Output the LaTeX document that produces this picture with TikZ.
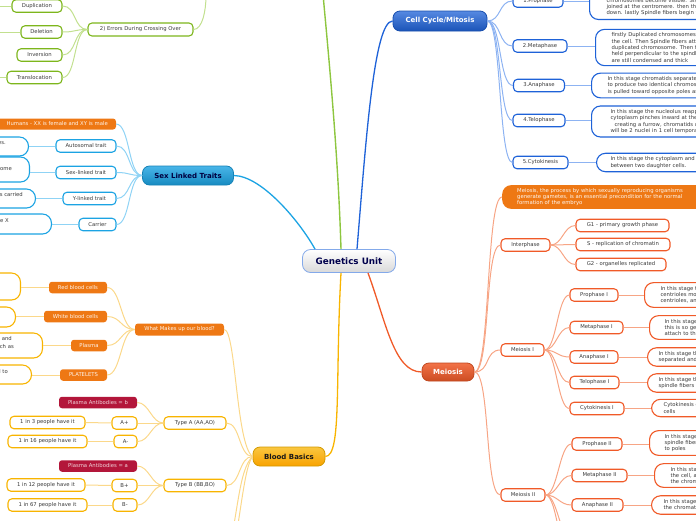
\documentclass[tikz,border=0pt]{standalone}
\usepackage{fontspec}
\setmainfont{DejaVu Sans}
\definecolor{grn}{HTML}{7DB61C}
\definecolor{grnl}{HTML}{C2E08F}
\definecolor{grnm}{HTML}{8DC63F}
\definecolor{blu}{HTML}{1E62D8}
\definecolor{blul}{HTML}{8DB3F2}
\definecolor{cyn}{HTML}{1BA3E3}
\definecolor{cynl}{HTML}{8FD3F5}
\definecolor{ylw}{HTML}{F8B400}
\definecolor{ylwl}{HTML}{FBD88A}
\definecolor{mred}{HTML}{F05A28}
\definecolor{mredl}{HTML}{F7A585}
\definecolor{org}{HTML}{EE7814}
\definecolor{crim}{HTML}{B3163A}
\definecolor{txt}{HTML}{3A3A3A}
\begin{document}
\begin{tikzpicture}[x=1pt,y=-1pt,
  font=\fontsize{5.3}{6.3}\selectfont,
  cbox/.style={draw, line width=1.1pt, fill=white, rounded corners=4pt, text=txt, inner xsep=2pt, inner ysep=0pt, minimum height=12.5pt},
  gbox/.style={cbox, draw=grn},
  bbox/.style={cbox, draw=blu},
  sbox/.style={cbox, draw=cyn},
  ybox/.style={cbox, draw=ylw},
  mbox/.style={cbox, draw=mred},
  fbox/.style={fill=org, rounded corners=3pt, text=white!92!org, inner xsep=2pt, inner ysep=0pt, minimum height=11.5pt},
  kbox/.style={fill=crim, rounded corners=3pt, text=white!82!crim, inner xsep=2pt, inner ysep=0pt, minimum height=11.5pt},
  mainbox/.style={draw, line width=0.8pt, rounded corners=7pt, font=\fontsize{7}{8}\selectfont\bfseries, minimum height=19pt, inner sep=2pt},
  rdet/.style={draw, line width=1.1pt, fill=white, rounded corners=9pt, anchor=west, align=left, text width=230pt, inner ysep=3.5pt, text=txt},
  ldet/.style={draw, line width=1.1pt, fill=white, rounded corners=9pt, anchor=east, minimum width=110pt},
  dtxt/.style={text=txt, inner sep=0pt, anchor=east},
  rconn/.style={to path={.. controls +(#1,0) and +(-#1,0) .. (\tikztotarget)}},
  rconn/.default=12,
  lconn/.style={to path={.. controls +(-#1,0) and +(#1,0) .. (\tikztotarget)}},
  lconn/.default=12,
  gl/.style={draw=grnl, line width=1pt},
  bl/.style={draw=blul, line width=1pt},
  sl/.style={draw=cynl, line width=1pt},
  yl/.style={draw=ylwl, line width=1pt},
  ml/.style={draw=mredl, line width=1pt}
]
\useasboundingbox (0,0) rectangle (696,520);
\clip (0,0) rectangle (696,520);

% ---------- centre ----------
\node[mainbox, top color=white, bottom color=gray!30!white, draw=blu!55!white, text=blue!30!black,
  font=\fontsize{8.8}{10}\selectfont\bfseries, minimum width=93pt, minimum height=23pt, rounded corners=8pt] (gu) at (349,261) {Genetics Unit};

% ---------- main branches ----------
\node[mainbox, top color=blu!75!white, bottom color=blu!85!black, draw=blu!80!black, text=white, minimum width=94pt, minimum height=20pt] (cc) at (440,21) {Cell Cycle/Mitosis};
\node[mainbox, top color=cyn!80!white, bottom color=cyn!85!black, draw=cyn!80!black, text=blue!25!black, minimum width=91pt] (slt) at (188,175.5) {Sex Linked Traits};
\node[mainbox, top color=ylw!75!white, bottom color=ylw!90!red, draw=ylw!85!black, text=black!90, minimum width=72pt] (bb) at (289,456.5) {Blood Basics};
\node[mainbox, top color=mred!85!white, bottom color=mred!85!black, draw=mred!80!black, text=white, minimum width=52pt, minimum height=18pt] (mei) at (448,372) {Meiosis};

\coordinate (gtop) at (323,-6);
\draw[draw=grnm, line width=1.4pt] ([xshift=-8pt]gu.north) .. controls (338,150) and (328,50) .. (gtop);
\draw[draw=blu, line width=1.3pt] ([xshift=8pt]gu.north) .. controls (366,140) and (374,21) .. (cc.west);
\draw[draw=cyn, line width=1.3pt] ([xshift=-34pt]gu.north) .. controls (300,222) and (262,176) .. (slt.east);
\draw[draw=ylw, line width=1.3pt] ([xshift=-8pt]gu.south) .. controls (335,380) and (342,456) .. (bb.east);
\draw[draw=mred, line width=1.3pt] ([xshift=19pt]gu.south) .. controls (386,322) and (394,372) .. (mei.west);

% ---------- Cell cycle / mitosis ----------
\node[bbox, minimum width=50pt] (p1) at (538,1) {1.Prophase};
\node[bbox, minimum width=54pt] (m2) at (540,46) {2.Metaphase};
\node[bbox, minimum width=51pt] (a3) at (539,85.5) {3.Anaphase};
\node[bbox, minimum width=52pt] (t4) at (539,120.5) {4.Telophase};
\node[bbox, minimum width=55pt] (c5) at (540.5,162.5) {5.Cytokinesis};
\foreach \n in {p1,m2,a3,t4,c5} \draw[bl] (cc.east) to[rconn=14] (\n.west);

\node[rdet, draw=blu, inner xsep=17pt] (p1d) at (589,4) {In this stage the chromatin condenses and the\\chromosomes become visible. Sister chromatids are\\joined at the centromere. then the nuclear envelope breaks\\down. lastly Spindle fibers begin to form};
\node[rdet, draw=blu, inner xsep=16pt] (m2d) at (595,47.5) {firstly Duplicated chromosomes line up in the middle of\\the cell. Then Spindle fibers attach to each\\duplicated chromosome. Then the chromosomes are\\held perpendicular to the spindle fibers. Chromosomes\\are still condensed and thick};
\node[rdet, draw=blu, inner xsep=16pt] (a3d) at (591,85.5) {In this stage chromatids separate at the centromere\\to produce two identical chromosomes. Each chromosome\\is pulled toward opposite poles as the fibers shorten};
\node[rdet, draw=blu, inner xsep=19pt] (t4d) at (591,121.5) {In this stage the nucleolus reappears and the\\cytoplasm pinches inward at the center of the cell\\\hspace*{4pt}creating a furrow, chromatids unwind. There\\will be 2 nuclei in 1 cell temporarily};
\node[rdet, draw=blu, inner xsep=14pt] (c5d) at (596,162.5) {In this stage the cytoplasm and organelles are divided\\between two daughter cells.};
\draw[bl] (p1.east) -- (p1.east -| p1d.west);
\draw[bl] (m2.east) -- (m2.east -| m2d.west);
\draw[bl] (a3.east) -- (a3.east -| a3d.west);
\draw[bl] (t4.east) -- (t4.east -| t4d.west);
\draw[bl] (c5.east) -- (c5.east -| c5d.west);

% ---------- Meiosis ----------
\node[fill=org, rounded corners=9pt, anchor=west, align=left, text width=260pt, inner xsep=15pt, inner ysep=3pt, text=white!95!org] (desc) at (502,197) {Meiosis, the process by which sexually reproducing organisms\\generate gametes, is an essential precondition for the normal\\formation of the embryo};
\node[mbox, minimum width=49pt] (ip) at (525.5,245) {Interphase};
\node[mbox, minimum width=93pt] (g1) at (622.5,225.5) {G1 - primary growth phase};
\node[mbox, minimum width=94pt] (sp) at (623,244.5) {S - replication of chromatin};
\node[mbox, minimum width=90pt] (g2) at (621,264.5) {G2 - organelles replicated};

\node[mbox, minimum width=43pt] (mi) at (522.5,350) {Meiosis I};
\node[mbox, minimum width=48pt] (pr1) at (594,295) {Prophase I};
\node[mbox, minimum width=53pt] (me1) at (596.5,327.5) {Metaphase I};
\node[mbox, minimum width=48pt] (an1) at (594,357) {Anaphase I};
\node[mbox, minimum width=49pt] (te1) at (594.5,382.5) {Telophase I};
\node[mbox, minimum width=54pt] (cy1) at (597,408.5) {Cytokinesis I};

\node[mbox, minimum width=44pt] (mii) at (523,495) {Meiosis II};
\node[mbox, minimum width=50pt] (pr2) at (597,444) {Prophase II};
\node[mbox, minimum width=55pt] (me2) at (599.5,475.5) {Metaphase II};
\node[mbox, minimum width=51pt] (an2) at (597.5,505) {Anaphase II};

\node[rdet, draw=mred, inner xsep=16pt] (pr1d) at (644,295) {In this stage the nuclear envelope breaks down, the\\centrioles move to opposite ends, spindle fibers form from\\centrioles, and homologous chromosomes pair up};
\node[rdet, draw=mred, inner xsep=15pt] (me1d) at (649,327.5) {In this stage homologous pairs line up at the equator,\\this is so genetic variation can happen, spindle fibers\\attach to the chromosomes};
\node[rdet, draw=mred, inner xsep=11pt] (an1d) at (647,357) {In this stage the homologous chromosomes are\\separated and pulled to opposite poles};
\node[rdet, draw=mred, inner xsep=11pt] (te1d) at (647,383) {In this stage the nuclear envelope reforms and the\\spindle fibers disappear};
\node[rdet, draw=mred, inner xsep=12pt] (cy1d) at (651,408) {Cytokinesis divides the cell into two daughter\\cells};
\node[rdet, draw=mred, inner xsep=15pt] (pr2d) at (649,443) {In this stage the nuclear envelope breaks down and\\spindle fibers form, chromosomes start to move\\to poles};
\node[rdet, draw=mred, inner xsep=16pt] (me2d) at (654,475.5) {In this stage the chromosomes line up in the middle of\\the cell, and the spindle fibers attach to\\the chromatids};
\node[rdet, draw=mred, inner xsep=12pt] (an2d) at (651,505) {In this stage the spindle fibers pull apart\\the chromatids to opposite poles};

\coordinate (mx1) at (572,540);
\coordinate (mx2) at (572,565);
\draw[ml] (mei.east) to[rconn=16] (desc.west);
\foreach \n in {ip,mi,mii} \draw[ml] (mei.east) to[rconn=16] (\n.west);
\foreach \n in {g1,sp,g2} \draw[ml] (ip.east) to[rconn=12] (\n.west);
\foreach \n in {pr1,me1,an1,te1,cy1} \draw[ml] (mi.east) to[rconn=12] (\n.west);
\foreach \n in {pr2,me2,an2,mx1,mx2} \draw[ml] (mii.east) to[rconn=12] (\n.west);
\foreach \n in {pr1,me1,an1,te1,cy1,pr2,me2,an2} \draw[ml] (\n.east) -- (\n.east -| \n d.west);

% ---------- Errors (green) ----------
\node[gbox, minimum width=105pt, minimum height=13pt] (err) at (140.5,29.5) {2) Errors During Crossing Over};
\node[gbox, minimum width=50pt] (dup) at (37,6) {Duplication};
\node[gbox, minimum width=41pt] (del) at (41.5,32) {Deletion};
\node[gbox, minimum width=45pt] (inv) at (39.5,55) {Inversion};
\node[gbox, minimum width=55pt] (tra) at (34.5,77.5) {Translocation};
\foreach \n in {dup,del,inv,tra} \draw[gl] (err.west) to[lconn=14] (\n.east);
\coordinate (errtop) at (206,-4);
\coordinate (dupl) at (-2,6);
\coordinate (dell) at (-2,32);
\coordinate (tral) at (-2,77.5);
\draw[gl] (err.east) .. controls +(9,0) and +(0,14) .. (errtop);
\draw[gl] (dup.west) -- (dupl);
\draw[gl] (del.west) -- (dell);
\draw[gl] (tra.west) -- (tral);

% ---------- Sex linked traits ----------
\fill[org, rounded corners=3pt] (-30,118.5) rectangle (116,129.5);
\coordinate (hum) at (116,124);
\node[text=white!92!org, inner sep=0pt, anchor=east] (humt) at (108,124) {Humans - XX is female and XY is male};
\node[sbox, minimum width=60pt] (aut) at (86,146) {Autosomal trait};
\node[sbox, minimum width=60pt] (sxl) at (86,172.5) {Sex-linked trait};
\node[sbox, minimum width=53pt] (ylk) at (89.5,198.5) {Y-linked trait};
\node[sbox, minimum width=37pt] (car) at (97.5,224.5) {Carrier};
\draw[sl] (slt.west) to[lconn=14] (hum);
\foreach \n in {aut,sxl,ylk,car} \draw[sl] (slt.west) to[lconn=14] (\n.east);

\node[ldet, draw=cyn, minimum height=19pt] (autd) at (29,146.5) {};
\node[ldet, draw=cyn, minimum height=25pt] (sxld) at (30,169.5) {};
\node[ldet, draw=cyn, minimum height=19pt] (ylkd) at (36,198.5) {};
\node[ldet, draw=cyn, minimum height=20pt] (card) at (52,224) {};
\node[dtxt] (autt) at (6,143) {autosomes.};
\node[dtxt] (sxlt) at (12,169) {chromosome};
\node[dtxt] (ylkt) at (23,195) {that is carried};
\node[dtxt] (cart) at (9,221) {the X};
\draw[sl] (aut.west) -- (aut.west -| autd.east);
\draw[sl] (sxl.west) -- (sxl.west -| sxld.east);
\draw[sl] (ylk.west) -- (ylk.west -| ylkd.east);
\draw[sl] (car.west) -- (car.west -| card.east);

% ---------- Blood ----------
\node[fbox, minimum width=89pt, minimum height=12pt] (wm) at (179.5,329.5) {What Makes up our blood?};
\node[fbox, minimum width=58pt] (rbc) at (78,287.5) {Red blood cells};
\node[fbox, minimum width=63pt] (wbc) at (75.5,316.5) {White blood cells};
\node[fbox, minimum width=36pt] (pla) at (89,345.5) {Plasma};
\node[fbox, minimum width=47pt] (plt) at (83.5,375) {PLATELETS};
\foreach \n in {rbc,wbc,pla,plt} \draw[yl] (wm.west) to[lconn=14] (\n.east);

\node[ldet, draw=ylw, minimum height=27pt] (rbcd) at (21,286.5) {};
\node[ldet, draw=ylw, minimum height=20pt] (wbcd) at (16,317) {};
\node[ldet, draw=ylw, minimum height=25pt] (plad) at (43,345.5) {};
\node[ldet, draw=ylw, minimum height=19pt] (pltd) at (32,374.5) {};
\node[dtxt] (plat1) at (12,339) {proteins and};
\node[dtxt] (plat2) at (14,347) {such as};
\node[dtxt] (pltt) at (8,372) {used to};
\draw[yl] (rbc.west) -- (rbc.west -| rbcd.east);
\draw[yl] (wbc.west) -- (wbc.west -| wbcd.east);
\draw[yl] (pla.west) -- (pla.west -| plad.east);
\draw[yl] (plt.west) -- (plt.west -| pltd.east);

\node[ybox, minimum width=62pt] (ta) at (195,423) {Type A (AA,AO)};
\node[kbox, minimum width=78pt] (pab) at (98,402.5) {Plasma Antibodies = b};
\node[ybox, minimum width=25pt] (ap) at (124.5,423) {A+};
\node[ybox, minimum width=23pt] (am) at (125.5,441.5) {A-};
\node[ybox, minimum width=75pt] (a3p) at (47.5,422.5) {1 in 3 people have it};
\node[ybox, minimum width=79pt] (a16) at (47.5,441.5) {1 in 16 people have it};

\node[ybox, minimum width=62pt] (tb) at (195,485.5) {Type B (BB,BO)};
\node[kbox, minimum width=78pt] (paa) at (98,466) {Plasma Antibodies = a};
\node[ybox, minimum width=25pt] (bp) at (124.5,485.5) {B+};
\node[ybox, minimum width=24pt] (bm) at (125,505) {B-};
\node[ybox, minimum width=78pt] (b12) at (46,485) {1 in 12 people have it};
\node[ybox, minimum width=79pt] (b67) at (47.5,505) {1 in 67 people have it};

\coordinate (bx1) at (226,560);
\coordinate (bx2) at (222,600);
\draw[yl] (bb.west) .. controls (236,445) and (236,330) .. (wm.east);
\draw[yl] (bb.west) to[lconn=14] (ta.east);
\draw[yl] (bb.west) to[lconn=14] (tb.east);
\draw[yl] (bb.west) .. controls (238,470) and (238,520) .. (bx1);
\draw[yl] (bb.west) .. controls (242,470) and (240,540) .. (bx2);
\foreach \n in {pab,ap,am} \draw[yl] (ta.west) to[lconn=12] (\n.east);
\foreach \n in {paa,bp,bm} \draw[yl] (tb.west) to[lconn=12] (\n.east);
\draw[yl] (ap.west) -- (a3p.east);
\draw[yl] (am.west) -- (a16.east);
\draw[yl] (bp.west) -- (b12.east);
\draw[yl] (bm.west) -- (b67.east);
\end{tikzpicture}
\end{document}
